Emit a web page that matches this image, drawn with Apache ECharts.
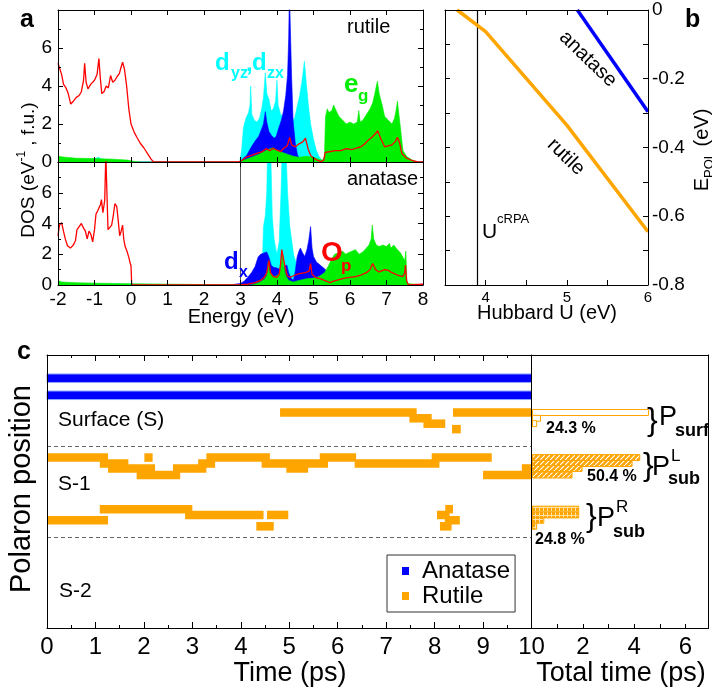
<!DOCTYPE html>
<html>
<head>
<meta charset="utf-8">
<title>TiO2 polarons</title>
<script src="https://cdn.jsdelivr.net/npm/echarts@6/dist/echarts.min.js"></script>
<style>
html,body{margin:0;padding:0;background:#fff;}
#chart{width:712px;height:695px;}
</style>
</head>
<body>
<div id="chart"></div>
<script>
// ======================= DATA =======================
// Panel a, top (rutile): DOS, pairs [energy (eV), DOS (1/eV f.u.)]
const rutileOp = [[-2,5.2],[-1.95,5.1],[-1.9,4.6],[-1.85,4.1],[-1.78,3.9],[-1.72,3.6],[-1.65,3.05],[-1.58,3.2],[-1.5,3.4],[-1.42,3.5],[-1.36,3.7],[-1.3,4.3],[-1.27,5.2],[-1.23,4.2],[-1.18,3.85],[-1.1,4.1],[-1.0,4.3],[-0.93,4.6],[-0.88,5.45],[-0.84,4.4],[-0.8,3.6],[-0.74,3.7],[-0.68,4.0],[-0.62,3.9],[-0.56,4.55],[-0.5,4.2],[-0.44,4.3],[-0.38,4.5],[-0.32,4.65],[-0.27,5.0],[-0.23,5.25],[-0.18,4.9],[-0.12,4.0],[-0.06,2.8],[0.0,2.0],[0.08,1.6],[0.16,1.3],[0.25,1.0],[0.35,0.75],[0.45,0.45],[0.55,0.15],[0.62,0],[2.95,0],[3.05,0.1],[3.15,0.25],[3.3,0.35],[3.45,0.45],[3.6,0.55],[3.7,0.7],[3.8,0.6],[3.9,0.72],[4.0,0.62],[4.1,0.55],[4.2,0.75],[4.28,0.85],[4.35,1.3],[4.4,0.9],[4.5,0.8],[4.6,0.95],[4.7,1.05],[4.78,1.25],[4.85,0.7],[4.92,0.35],[5.0,0.2],[5.1,0.1],[5.2,0.02],[5.28,0.1],[5.32,0.5],[5.45,0.55],[5.6,0.6],[5.75,0.6],[5.9,0.7],[6.05,0.65],[6.2,0.75],[6.3,0.8],[6.4,0.95],[6.5,1.15],[6.6,1.3],[6.7,1.5],[6.76,1.65],[6.85,1.2],[6.95,0.8],[7.05,0.85],[7.15,0.9],[7.25,1.1],[7.3,1.3],[7.36,1.0],[7.42,0.45],[7.55,0.2],[7.7,0.08],[7.85,0],[8,0]];
const rutileDyzDzx = [[-2,0.1],[-1.5,0.08],[-1.0,0.15],[-0.9,0.25],[-0.85,0.3],[-0.8,0.15],[-0.5,0.1],[-0.2,0.05],[0,0.02],[0.1,0],[2.98,0],[3.03,0.6],[3.08,1.8],[3.15,2.3],[3.22,2.6],[3.26,3.0],[3.28,4.0],[3.31,2.5],[3.38,2.2],[3.45,2.1],[3.52,2.3],[3.58,2.8],[3.63,3.4],[3.68,4.7],[3.72,3.6],[3.78,3.3],[3.84,2.7],[3.9,2.8],[3.96,3.2],[4.0,4.3],[4.03,3.0],[4.1,2.5],[4.18,2.4],[4.25,2.6],[4.32,2.3],[4.4,2.1],[4.48,2.3],[4.55,2.9],[4.62,3.5],[4.68,4.2],[4.72,4.8],[4.75,5.3],[4.8,4.2],[4.86,3.0],[4.92,2.0],[5.0,1.2],[5.08,0.6],[5.15,0.3],[5.22,0.1],[5.3,0],[8,0]];
const rutileDxy = [[-2,0],[2.98,0],[3.05,0.15],[3.17,0.35],[3.3,0.8],[3.4,1.1],[3.5,1.35],[3.57,1.7],[3.63,2.0],[3.68,2.65],[3.72,2.1],[3.78,1.6],[3.85,1.4],[3.92,1.25],[3.98,1.35],[4.05,1.8],[4.12,2.2],[4.18,2.7],[4.24,3.5],[4.29,4.6],[4.32,6.5],[4.34,9],[4.37,9],[4.4,4.5],[4.44,2.2],[4.5,1.0],[4.56,0.4],[4.62,0.1],[4.68,0],[8,0]];
const rutileEg = [[-2,0.3],[-1.8,0.25],[-1.5,0.2],[-1.0,0.18],[-0.5,0.15],[-0.1,0.1],[0.1,0.03],[0.3,0],[2.98,0],[3.1,0.1],[3.3,0.25],[3.5,0.4],[3.65,0.55],[3.8,0.7],[3.9,0.75],[4.0,0.6],[4.15,0.5],[4.3,0.4],[4.45,0.3],[4.6,0.25],[4.8,0.3],[5.0,0.25],[5.15,0.15],[5.25,0.1],[5.3,0.3],[5.33,2.4],[5.38,2.8],[5.42,2.6],[5.5,2.7],[5.55,3.0],[5.62,2.7],[5.7,2.4],[5.8,2.2],[5.9,2.0],[6.0,2.1],[6.1,2.0],[6.2,2.1],[6.24,2.7],[6.28,2.1],[6.35,2.2],[6.45,2.5],[6.55,2.8],[6.62,3.1],[6.68,3.6],[6.75,4.25],[6.8,3.6],[6.88,3.0],[6.95,2.4],[7.05,2.2],[7.15,2.0],[7.22,2.3],[7.27,2.8],[7.3,3.2],[7.34,2.5],[7.4,1.5],[7.45,0.6],[7.55,0.3],[7.7,0.1],[7.85,0],[8,0]];

// Panel a, bottom (anatase)
const anataseOp = [[-2,3.2],[-1.96,3.9],[-1.9,4.05],[-1.85,3.5],[-1.8,3.0],[-1.74,2.55],[-1.66,2.4],[-1.58,2.6],[-1.52,2.9],[-1.48,3.6],[-1.42,3.8],[-1.36,4.0],[-1.3,3.7],[-1.25,3.5],[-1.2,3.0],[-1.15,3.5],[-1.1,3.3],[-1.05,2.8],[-1.0,3.6],[-0.96,4.6],[-0.9,4.9],[-0.84,5.2],[-0.81,5.55],[-0.77,4.7],[-0.72,5.5],[-0.69,8.5],[-0.66,6.0],[-0.63,3.6],[-0.58,3.7],[-0.53,3.9],[-0.48,4.6],[-0.44,5.3],[-0.39,5.1],[-0.35,4.2],[-0.31,3.2],[-0.27,3.5],[-0.23,3.9],[-0.2,3.0],[-0.16,2.5],[-0.11,2.2],[-0.06,1.8],[-0.02,1.4],[0.0,1.25],[0.02,0],[2.95,0],[3.2,0.05],[3.4,0.15],[3.55,0.3],[3.65,0.5],[3.72,0.8],[3.78,1.6],[3.82,0.8],[3.9,0.55],[4.0,0.5],[4.06,0.7],[4.1,1.4],[4.13,2.3],[4.17,1.8],[4.22,1.2],[4.28,0.6],[4.35,0.5],[4.45,0.6],[4.55,0.7],[4.65,0.75],[4.78,0.8],[4.88,0.9],[4.92,1.4],[4.96,0.7],[5.05,0.5],[5.2,0.4],[5.35,0.25],[5.45,0.15],[5.55,0.25],[5.7,0.35],[5.85,0.45],[6.0,0.5],[6.15,0.55],[6.3,0.65],[6.45,0.8],[6.55,1.0],[6.62,1.4],[6.7,1.0],[6.8,0.85],[6.95,1.0],[7.05,0.95],[7.15,0.8],[7.3,0.65],[7.45,0.55],[7.5,0.8],[7.52,1.3],[7.55,0.3],[7.6,0],[8,0.05]];
const anataseDyzDzx = [[-2,0.1],[-1,0.08],[0,0.05],[0.05,0],[3.45,0],[3.54,0.3],[3.6,1.5],[3.63,3.8],[3.68,4.5],[3.72,6],[3.74,8.5],[3.83,8.5],[3.87,4.5],[3.92,3.0],[3.97,2.3],[4.0,2.05],[4.06,2.8],[4.11,6],[4.14,8.5],[4.25,8.5],[4.29,6],[4.35,3.8],[4.42,2.6],[4.46,1.9],[4.55,1.3],[4.62,0.9],[4.7,0.6],[4.8,0.4],[5.0,0.3],[5.2,0.2],[5.4,0.1],[5.5,0],[8,0]];
const anataseDxy = [[-2,0],[2.75,0],[2.85,0.05],[3.0,0.1],[3.1,0.25],[3.2,0.5],[3.3,0.8],[3.4,1.2],[3.48,1.8],[3.55,2.0],[3.6,2.05],[3.66,2.1],[3.72,2.15],[3.78,1.8],[3.84,1.3],[3.9,1.15],[4.0,1.1],[4.1,1.0],[4.2,1.2],[4.27,1.3],[4.32,0.8],[4.38,0.45],[4.45,0.3],[4.5,0.9],[4.55,1.8],[4.6,2.2],[4.64,2.4],[4.7,2.1],[4.76,1.85],[4.82,2.3],[4.87,2.9],[4.92,3.8],[4.96,2.4],[5.0,1.85],[5.08,1.5],[5.18,1.3],[5.28,1.1],[5.35,0.95],[5.42,0.65],[5.48,0.3],[5.55,0],[8,0]];
const anataseEg = [[-2,0.3],[-1.9,0.2],[-1.5,0.15],[-1.0,0.12],[-0.5,0.1],[0,0.08],[0.05,0],[3.3,0],[3.5,0.15],[3.65,0.35],[3.72,0.6],[3.76,1.5],[3.8,0.9],[3.88,0.6],[3.95,0.55],[4.05,0.7],[4.1,1.2],[4.14,2.2],[4.18,1.3],[4.24,0.6],[4.32,0.3],[4.45,0.2],[4.6,0.3],[4.8,0.4],[5.0,0.45],[5.15,0.55],[5.3,0.8],[5.4,1.2],[5.5,1.7],[5.58,2.0],[5.7,2.1],[5.8,2.2],[5.88,2.0],[5.95,2.1],[6.05,2.2],[6.15,2.3],[6.25,2.0],[6.35,2.15],[6.45,2.4],[6.52,2.6],[6.58,3.0],[6.61,3.9],[6.65,3.0],[6.72,2.6],[6.8,2.5],[6.9,2.6],[7.0,2.5],[7.08,2.7],[7.12,2.4],[7.2,2.6],[7.3,2.3],[7.38,2.1],[7.45,1.8],[7.5,1.6],[7.53,2.2],[7.56,0.1],[7.6,0],[8,0]];
const gapMarkerEnergy = 3;

// Panel b: polaron energy vs Hubbard U
const hubbardURutile = [3.65, 4.0, 5.0, 6.0];
const ePolRutile = [0, -0.063, -0.335, -0.645];
const hubbardUAnatase = [5.13, 6.0];
const ePolAnatase = [0, -0.296];
const uCRPA = 3.9;

// Panel c: trajectories [t start (ps), t end (ps), position level]
const anataseTrajectory = [[0,10,2.72],[0,10,4.72]];
const rutileTrajectory = [
  [4.81,7.63,6.74],[7.48,7.94,7.42],[7.77,8.22,8.05],[8.38,10,6.74],[8.36,8.54,8.69],
  [0,1.26,12.02],[1.09,1.68,12.72],[1.26,2.23,13.3],[1.85,2.75,14.07],[2.01,2.18,12.02],[2.6,3.29,13.3],[3.12,3.47,12.72],[3.29,4.6,12.02],[4.43,5.8,12.72],[4.94,5.39,13.3],[5.63,6.38,12.02],[6.35,8.1,12.72],[7.94,9.18,12.02],[9.0,10,14.07],[9.8,10,13.3],
  [0,1.26,19.37],[1.09,3.0,18.07],[2.85,4.47,18.75],[4.54,4.98,18.75],[4.32,4.68,20.08],[8.22,8.38,18.07],[8.05,8.31,18.75],[8.21,8.52,19.37],[8.11,8.35,20.08]
];
const layerBoundaries = [10.67, 21.33];
// histograms [total time (ps), position level]
const histSurface = [[4.56,6.74],[0.35,7.42],[0.2,8.05]];
const histSubL = [[4.22,12.02],[3.92,12.72],[1.97,13.3],[1.58,14.07]];
const histSubR = [[1.84,18.07],[1.84,18.75],[0.48,19.37],[0.2,20.08]];
const percentLabels = ['24.3 %', '50.4 %', '24.8 %'];

// ======================= STYLE =======================
const SANS = "'Liberation Sans', Arial, Helvetica, sans-serif";
const CYAN = '#00ffff', BLUE = '#0000ff', GREEN = '#00ee00', RED = '#ff0000', ORANGE = '#ffa500';
const BAR_H = 1.0, HIST_H = 0.7;

function makePattern(w, h, draw) {
  const c = document.createElement('canvas'); c.width = w; c.height = h;
  draw(c.getContext('2d'), w, h); return c;
}
const hatchCanvas = makePattern(5, 5, (g, w, h) => {
  g.fillStyle = ORANGE; g.fillRect(0, 0, w, h);
  g.strokeStyle = '#fff'; g.lineWidth = 1.1;
  g.beginPath(); g.moveTo(-1, h + 1); g.lineTo(w + 1, -1);
  g.moveTo(-2, 1); g.lineTo(1, -2); g.moveTo(w - 1, h + 2); g.lineTo(w + 2, h - 1); g.stroke();
});
const gridCanvas = makePattern(4, 4, (g, w, h) => {
  g.fillStyle = ORANGE; g.fillRect(0, 0, w, h);
  g.fillStyle = '#ffe2a8'; g.fillRect(3, 0, 1, h); g.fillRect(0, 3, w, 1);
});

const tickBase = {inside: true, length: 5, lineStyle: {color: '#000', width: 1}};
const lineBase = {show: true, onZero: false, lineStyle: {color: '#000', width: 1}};
function xAx(o) {
  return Object.assign({type: 'value', z: 10, axisLine: lineBase, splitLine: {show: false},
    axisTick: tickBase, axisLabel: {show: false}}, o);
}
function yAx(o) { return xAx(o); }
const labelA = {show: true, color: '#000', fontSize: 19, fontFamily: SANS, margin: 6};
const minorA = {show: true, splitNumber: 2, length: 3, lineStyle: {color: '#000'}};

function area(data, color, xi, yi, z) {
  return {type: 'line', xAxisIndex: xi, yAxisIndex: yi, data: data, symbol: 'none', silent: true, z: z,
    lineStyle: {width: 0.6, color: color}, itemStyle: {color: color}, areaStyle: {color: color, opacity: 1}};
}
function redLine(data, xi, yi, extra) {
  return Object.assign({type: 'line', xAxisIndex: xi, yAxisIndex: yi, data: data, symbol: 'none', silent: true, z: 6,
    lineStyle: {width: 1.3, color: RED}, itemStyle: {color: RED}}, extra || {});
}

function segRender(fill, stroke) {
  return function (params, api) {
    const a = api.coord([api.value(0), api.value(2) - BAR_H / 2]);
    const b = api.coord([api.value(1), api.value(2) + BAR_H / 2]);
    return {type: 'rect', shape: {x: Math.min(a[0], b[0]), y: Math.min(a[1], b[1]),
      width: Math.abs(b[0] - a[0]), height: Math.abs(b[1] - a[1])},
      style: {fill: fill, stroke: stroke || null, lineWidth: stroke ? 1 : 0}};
  };
}
function histRender(fill) {
  return function (params, api) {
    const a = api.coord([0, api.value(1) - HIST_H / 2]);
    const b = api.coord([api.value(0), api.value(1) + HIST_H / 2]);
    return {type: 'rect', shape: {x: a[0] + 1, y: Math.min(a[1], b[1]),
      width: Math.abs(b[0] - a[0]) - 1, height: Math.abs(b[1] - a[1])},
      style: {fill: fill, stroke: ORANGE, lineWidth: 1}};
  };
}

function T(x, y, text, size, o) {
  o = o || {};
  const font = (o.weight || 'normal') + ' ' + size + 'px ' + (o.family || SANS);
  const st = {text: text, fill: o.color || '#000', font: font,
    align: o.align || 'left', textAlign: o.align || 'left',
    verticalAlign: o.va || 'middle', textVerticalAlign: o.va || 'middle'};
  if (o.rich) st.rich = o.rich;
  return {type: 'text', x: x, y: y, rotation: o.rot || 0, z: 100, silent: true, style: st};
}

// ======================= OPTION =======================
const chart = echarts.init(document.getElementById('chart'), null, {renderer: 'canvas', width: 712, height: 695});

const option = {
  animation: false,
  backgroundColor: '#fff',
  grid: [
    {left: 58, top: 10, width: 365, height: 152},
    {left: 58, top: 162, width: 365, height: 123},
    {left: 445, top: 10, width: 203, height: 275},
    {left: 47, top: 355, width: 484.5, height: 273},
    {left: 531.5, top: 355, width: 177, height: 273}
  ],
  xAxis: [
    xAx({gridIndex: 0, min: -2, max: 8, interval: 1, position: 'bottom'}),
    xAx({gridIndex: 0, min: -2, max: 8, interval: 1, position: 'top'}),
    xAx({gridIndex: 1, min: -2, max: 8, interval: 1, position: 'bottom', axisLabel: Object.assign({}, labelA, {margin: 5})}),
    xAx({gridIndex: 1, min: -2, max: 8, interval: 1, position: 'top'}),
    xAx({gridIndex: 2, min: 3.5, max: 6, interval: 0.5, position: 'bottom',
      axisLabel: {show: true, color: '#000', fontSize: 15, fontFamily: SANS, margin: 5,
        formatter: v => (Math.abs(v - Math.round(v)) < 1e-6 ? String(Math.round(v)) : '')}}),
    xAx({gridIndex: 2, min: 3.5, max: 6, interval: 0.5, position: 'top'}),
    xAx({gridIndex: 3, min: 0, max: 10, interval: 1, position: 'bottom',
      axisTick: Object.assign({}, tickBase, {length: 6}), minorTick: minorA,
      axisLabel: {show: true, color: '#000', fontSize: 24, fontFamily: SANS, margin: 7}}),
    xAx({gridIndex: 3, min: 0, max: 10, interval: 1, position: 'top',
      axisTick: Object.assign({}, tickBase, {length: 6}), minorTick: minorA}),
    xAx({gridIndex: 4, min: 0, max: 6.9, interval: 1, position: 'bottom',
      axisTick: Object.assign({}, tickBase, {length: 4}),
      axisLabel: {show: true, color: '#000', fontSize: 24, fontFamily: SANS, margin: 7,
        formatter: v => (v > 0 && Math.abs(v % 2) < 1e-6 ? String(v) : '')}}),
    xAx({gridIndex: 4, min: 0, max: 6.9, position: 'top', axisTick: {show: false}})
  ],
  yAxis: [
    yAx({gridIndex: 0, min: 0, max: 8, interval: 2, position: 'left', minorTick: minorA,
      axisLabel: Object.assign({}, labelA, {formatter: v => (v === 8 ? '' : String(v))})}),
    yAx({gridIndex: 0, min: 0, max: 8, interval: 2, position: 'right', minorTick: minorA}),
    yAx({gridIndex: 1, min: 0, max: 8, interval: 2, position: 'left', minorTick: minorA,
      axisLabel: Object.assign({}, labelA, {formatter: v => (v === 8 ? '' : String(v))})}),
    yAx({gridIndex: 1, min: 0, max: 8, interval: 2, position: 'right', minorTick: minorA}),
    yAx({gridIndex: 2, min: -0.8, max: 0, interval: 0.1, position: 'left'}),
    yAx({gridIndex: 2, min: -0.8, max: 0, interval: 0.1, position: 'right',
      axisLabel: {show: true, color: '#000', fontSize: 19, fontFamily: SANS, margin: 4,
        formatter: v => { const k = Math.round(v * 10); return k % 2 === 0 ? (k === 0 ? '0' : (k / 10).toFixed(1)) : ''; }}}),
    yAx({gridIndex: 3, min: 0, max: 32, inverse: true, position: 'left', axisTick: {show: false}}),
    yAx({gridIndex: 4, min: 0, max: 32, inverse: true, position: 'left', axisTick: {show: false}}),
    yAx({gridIndex: 4, min: 0, max: 32, inverse: true, position: 'right', axisTick: {show: false}})
  ],
  legend: {
    data: [{name: 'Anatase', icon: 'rect'}, {name: 'Rutile', icon: 'rect'}],
    orient: 'vertical', left: 387, top: 555,
    padding: [4, 5, 4, 15], itemGap: 1, itemWidth: 7, itemHeight: 8,
    borderColor: '#333', borderWidth: 1, backgroundColor: '#fff', selectedMode: false,
    textStyle: {fontSize: 24, fontFamily: SANS, color: '#000', lineHeight: 24, padding: [0, 0, 0, 8]}
  },
  series: [
    // panel a top (rutile)
    area(rutileDyzDzx, CYAN, 0, 0, 2),
    area(rutileDxy, BLUE, 0, 0, 3),
    area(rutileEg, GREEN, 0, 0, 4),
    redLine(rutileOp, 0, 0),
    // panel a bottom (anatase)
    area(anataseDyzDzx, CYAN, 2, 2, 2),
    area(anataseDxy, BLUE, 2, 2, 3),
    area(anataseEg, GREEN, 2, 2, 4),
    redLine(anataseOp, 2, 2, {markLine: {silent: true, symbol: 'none', label: {show: false},
      lineStyle: {color: '#555', width: 1, type: 'solid'}, data: [{xAxis: gapMarkerEnergy}]}}),
    // panel b
    {type: 'line', xAxisIndex: 4, yAxisIndex: 4, symbol: 'none', silent: true, z: 5,
      data: hubbardURutile.map((u, i) => [u, ePolRutile[i]]),
      lineStyle: {color: ORANGE, width: 3.5}, itemStyle: {color: ORANGE},
      markLine: {silent: true, symbol: 'none', label: {show: false},
        lineStyle: {color: '#000', width: 1.2, type: 'solid'}, data: [{xAxis: uCRPA}]}},
    {type: 'line', xAxisIndex: 4, yAxisIndex: 4, symbol: 'none', silent: true, z: 5,
      data: hubbardUAnatase.map((u, i) => [u, ePolAnatase[i]]),
      lineStyle: {color: BLUE, width: 3.5}, itemStyle: {color: BLUE}},
    // panel c trajectories
    {type: 'custom', name: 'Anatase', xAxisIndex: 6, yAxisIndex: 6, data: anataseTrajectory,
      encode: {x: [0, 1], y: 2}, itemStyle: {color: BLUE}, renderItem: segRender(BLUE, '#8fa8ff'), z: 3},
    {type: 'custom', name: 'Rutile', xAxisIndex: 6, yAxisIndex: 6, data: rutileTrajectory,
      encode: {x: [0, 1], y: 2}, itemStyle: {color: ORANGE}, renderItem: segRender(ORANGE), z: 3,
      markLine: {silent: true, symbol: 'none', label: {show: false},
        lineStyle: {color: '#666', width: 1, type: [4, 3]},
        data: layerBoundaries.map(v => ({yAxis: v}))}},
    // panel c histograms
    {type: 'custom', xAxisIndex: 8, yAxisIndex: 7, data: histSurface, encode: {x: 0, y: 1},
      renderItem: histRender('#fff'), z: 3},
    {type: 'custom', xAxisIndex: 8, yAxisIndex: 7, data: histSubL, encode: {x: 0, y: 1},
      renderItem: histRender({image: hatchCanvas, repeat: 'repeat'}), z: 3},
    {type: 'custom', xAxisIndex: 8, yAxisIndex: 7, data: histSubR, encode: {x: 0, y: 1},
      renderItem: histRender({image: gridCanvas, repeat: 'repeat'}), z: 3}
  ],
  graphic: [
    // panel a
    T(20, 20, 'a', 25, {weight: 'bold'}),
    T(347, 27, 'rutile', 20),
    T(347, 179, 'anatase', 20),
    T(215, 63, 'd', 24, {weight: 'bold', color: CYAN}),
    T(231, 74, 'yz', 16, {weight: 'bold', color: CYAN}),
    T(246, 64, ',', 24, {weight: 'bold', color: CYAN}),
    T(252, 63, 'd', 24, {weight: 'bold', color: CYAN}),
    T(267, 74, 'zx', 16, {weight: 'bold', color: CYAN}),
    T(344, 85, 'e', 26, {weight: 'bold', color: GREEN}),
    T(358, 96, 'g', 17, {weight: 'bold', color: GREEN}),
    T(224, 262, 'd', 24, {weight: 'bold', color: BLUE}),
    T(239, 273, 'x', 16, {weight: 'bold', color: BLUE}),
    T(321, 253, 'O', 28, {weight: 'bold', color: RED}),
    T(341, 266, 'p', 17, {weight: 'bold', color: RED}),
    T(29, 170, '{m|DOS (eV}{s|-1}{m| , f.u.)}', 19, {align: 'center', rot: Math.PI / 2,
      rich: {m: {fontSize: 19, fontFamily: SANS, lineHeight: 27},
             s: {fontSize: 12, fontFamily: SANS, lineHeight: 12, verticalAlign: 'top'}}}),
    T(241, 317, 'Energy (eV)', 20, {align: 'center'}),
    // panel b
    T(685, 20, 'b', 25, {weight: 'bold'}),
    T(588, 59, 'anatase', 20, {align: 'center', rot: -0.77}),
    T(566, 157, 'rutile', 20, {align: 'center', rot: -0.77}),
    T(482, 232, 'U', 21),
    T(497, 219, 'cRPA', 13),
    T(547, 313, 'Hubbard U (eV)', 20, {align: 'center'}),
    T(702, 150, '{m|E}{s|POL}{m| (eV)}', 20, {align: 'center', rot: Math.PI / 2,
      rich: {m: {fontSize: 20, fontFamily: SANS, lineHeight: 28},
             s: {fontSize: 13, fontFamily: SANS, lineHeight: 13, verticalAlign: 'bottom'}}}),
    // panel c
    T(17, 352, 'c', 25, {weight: 'bold'}),
    T(58, 420, 'Surface (S)', 21),
    T(58, 484, 'S-1', 21),
    T(59, 591, 'S-2', 21),
    T(22, 489, 'Polaron position', 29, {align: 'center', rot: Math.PI / 2}),
    T(290, 674, 'Time (ps)', 27, {align: 'center'}),
    T(621, 674, 'Total time (ps)', 27, {align: 'center'}),
    T(546, 429, percentLabels[0], 16, {weight: 'bold'}),
    T(587, 477, percentLabels[1], 16, {weight: 'bold'}),
    T(535, 540, percentLabels[2], 16, {weight: 'bold'}),
    T(647, 421, '}', 32),
    T(659, 418, 'P', 27),
    T(675, 431, 'surf', 18, {weight: 'bold'}),
    T(643, 466, '}', 32),
    T(652, 468, 'P', 27),
    T(671, 456, 'L', 17),
    T(668, 479, 'sub', 18, {weight: 'bold'}),
    T(586, 517, '}', 32),
    T(597, 519, 'P', 27),
    T(616, 507, 'R', 17),
    T(613, 532, 'sub', 18, {weight: 'bold'})
  ]
};
chart.setOption(option);
</script>
</body>
</html>
